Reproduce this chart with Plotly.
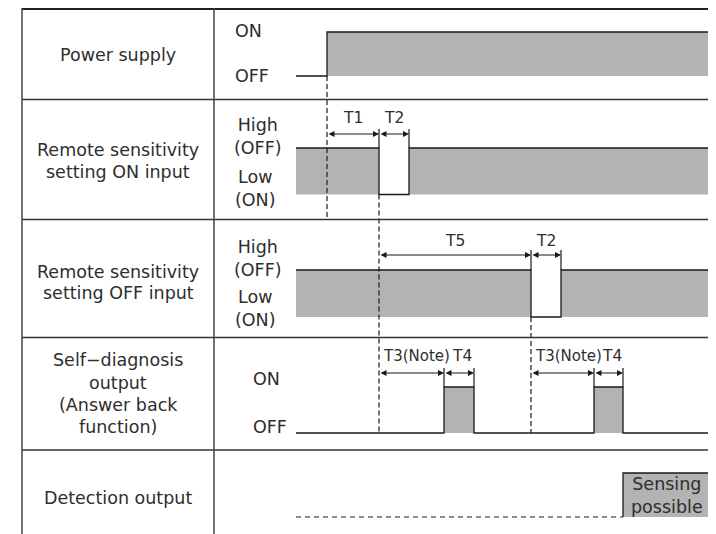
import plotly.graph_objects as go

W, H = 716, 534
PAGE_OFF = 8            # body margin of the html page (pixels)
X_ORIGIN = 327          # screen column of time zero (power on)

# ---------------- data (time units, power-on = 0) ----------------
power_t = [-31, 0, 384]
power_s = [0, 1, 1]
on_in_t = [-31, 52, 82, 384]
on_in_s = [1, 0, 1, 1]
off_in_t = [-31, 204, 234, 384]
off_in_s = [1, 0, 1, 1]
diag_t = [-31, 117, 147, 267, 296, 384]
diag_s = [0, 1, 0, 1, 0, 0]
det_t = [-31, 296, 384]
det_s = [0, 1, 1]

dim_label = ["T1", "T2", "T5", "T2", "T3(Note)", "T4", "T3(Note)", "T4"]
dim_t0 = [0, 52, 52, 204, 52, 117, 204, 267]
dim_t1 = [52, 82, 204, 234, 117, 147, 267, 296]
dim_row = [1, 1, 2, 2, 3, 3, 3, 3]

dash_t = [0, 52, 204]

row_titles = [
    ["Power supply"],
    ["Remote sensitivity", "setting ON input"],
    ["Remote sensitivity", "setting OFF input"],
    ["Self\u2212diagnosis", "output", "(Answer back", "function)"],
    ["Detection output"],
]
detect_text = "Sensing<br>possible"

# ---------------- layout constants (screen pixels) ----------------
row_high = [32, 148, 270, 387, 473]
row_low = [76, 194.5, 317, 433, 517]
row_title_y = [[55], [150, 172], [271.5, 293], [360, 383, 405, 427], [498]]
dim_arrow_y = {1: 134, 2: 255, 3: 373}
dim_text_y = {1: 118, 2: 241, 3: 356}
dash_y0 = [76, 194.5, 317]
dash_y1 = [219.5, 433, 433]
tick_top = {1: 129, 2: 250, 3: 368}
tick_bottom = {1: 148, 2: 270, 3: 387}
tick_t = {1: [52, 82], 2: [204, 234], 3: [117, 147, 267, 296]}

FONT = "DejaVu Sans"
TXT = "#2e2e2e"
LINE = "#1a1a1a"
GRAY = "#b3b3b3"
FS = 17.5


def X(px):
    return px - X_ORIGIN


signals = [(power_t, power_s), (on_in_t, on_in_s), (off_in_t, off_in_s),
           (diag_t, diag_s), (det_t, det_s)]

fig = go.Figure()

# gray fills where state == 1
for r, (ts, ss) in enumerate(signals):
    hi, lo = row_high[r], row_low[r]
    for i in range(len(ts) - 1):
        if ss[i] == 1 and ts[i + 1] > ts[i]:
            fig.add_trace(go.Scatter(
                x=[ts[i], ts[i + 1], ts[i + 1], ts[i], ts[i]],
                y=[hi, hi, lo, lo, hi], mode="lines", fill="toself",
                fillcolor=GRAY, line=dict(width=0), hoverinfo="skip"))

# signal step lines
for r, (ts, ss) in enumerate(signals):
    hi, lo = row_high[r], row_low[r]
    ys = [lo + s * (hi - lo) for s in ss]
    if r < 4:
        fig.add_trace(go.Scatter(x=ts, y=ys, mode="lines", line_shape="hv",
                                 line=dict(color=LINE, width=1.3), hoverinfo="skip"))
    else:
        # low part dashed, rise and high part solid
        for i in range(len(ts) - 1):
            if ss[i] == 0:
                fig.add_trace(go.Scatter(x=[ts[i], ts[i + 1]], y=[lo, lo], mode="lines",
                                         line=dict(color=LINE, width=1.2, dash="5px,4px"),
                                         hoverinfo="skip"))
            else:
                prev = ss[i - 1] if i > 0 else 1
                xs = [ts[i], ts[i], ts[i + 1]] if prev == 0 else [ts[i], ts[i + 1]]
                yv = [lo, hi, hi] if prev == 0 else [hi, hi]
                fig.add_trace(go.Scatter(x=xs, y=yv, mode="lines",
                                         line=dict(color=LINE, width=1.3), hoverinfo="skip"))

# dashed vertical reference lines
for t, y0, y1 in zip(dash_t, dash_y0, dash_y1):
    fig.add_trace(go.Scatter(x=[t, t], y=[y0, y1], mode="lines",
                             line=dict(color=LINE, width=1.2, dash="5px,3px"), hoverinfo="skip"))

# small ticks at dimension ends
for rr, ts in tick_t.items():
    xs, ys = [], []
    for t in ts:
        xs += [t, t, None]
        ys += [tick_top[rr], tick_bottom[rr], None]
    fig.add_trace(go.Scatter(x=xs, y=ys, mode="lines",
                             line=dict(color=LINE, width=1.2), hoverinfo="skip"))

ann = []
# dimension arrows + labels
for lab, t0, t1, rr in zip(dim_label, dim_t0, dim_t1, dim_row):
    ya = dim_arrow_y[rr]
    ann.append(dict(x=t1, y=ya, ax=t0, ay=ya, xref="x", yref="y", axref="x", ayref="y",
                    text="", showarrow=True, arrowhead=2, startarrowhead=2,
                    arrowside="end+start", arrowsize=1, arrowwidth=1.2,
                    arrowcolor=LINE, standoff=0, startstandoff=0))
    if lab.startswith("T3"):
        ann.append(dict(x=t0 + 2, y=dim_text_y[rr], xref="x", yref="y", text=lab,
                        showarrow=False, xanchor="left", yanchor="middle",
                        font=dict(family=FONT, size=15, color=TXT)))
    else:
        off = 3 if lab == "T4" else 0
        ann.append(dict(x=(t0 + t1) / 2 + off, y=dim_text_y[rr], xref="x", yref="y", text=lab,
                        showarrow=False, xanchor="center", yanchor="middle",
                        font=dict(family=FONT, size=15.5, color=TXT)))

# row titles
for lines, ys in zip(row_titles, row_title_y):
    for txt, y in zip(lines, ys):
        ann.append(dict(x=X(118), y=y, xref="x", yref="y", text=txt, showarrow=False,
                        xanchor="center", yanchor="middle",
                        font=dict(family=FONT, size=FS, color=TXT)))

# level labels
level_labels = [
    ("ON", 233, 31, "left"), ("OFF", 233, 76, "left"),
    ("High<br>(OFF)", 258, 136, "center"), ("Low<br>(ON)", 255, 188, "center"),
    ("High<br>(OFF)", 258, 258.5, "center"), ("Low<br>(ON)", 255, 308.5, "center"),
    ("ON", 251, 379, "left"), ("OFF", 251, 427, "left"),
]
for txt, px, y, anc in level_labels:
    ann.append(dict(x=X(px), y=y, xref="x", yref="y", text=txt, showarrow=False,
                    xanchor=anc, yanchor="middle",
                    font=dict(family=FONT, size=FS, color=TXT)))

# detection text inside box
ann.append(dict(x=(det_t[1] + det_t[2]) / 2, y=(row_high[4] + row_low[4]) / 2 + 0.5,
                xref="x", yref="y", text=detect_text, showarrow=False,
                xanchor="center", yanchor="middle",
                font=dict(family=FONT, size=FS, color=TXT)))

# table grid
shapes = []
shapes.append(dict(type="line", xref="x", yref="y", x0=X(22), x1=X(W + 20), y0=9, y1=9,
                   line=dict(color="#222222", width=2)))
for y in [99.5, 219.5, 337.5, 450]:
    shapes.append(dict(type="line", xref="x", yref="y", x0=X(22), x1=X(W + 20), y0=y, y1=y,
                       line=dict(color="#333333", width=1.5)))
for x in [22, 214]:
    shapes.append(dict(type="line", xref="x", yref="y", x0=X(x), x1=X(x), y0=8, y1=H + 20,
                       line=dict(color="#444444", width=1.5)))

fig.update_layout(
    width=W, height=H, margin=dict(l=0, r=0, t=0, b=0),
    paper_bgcolor="white", plot_bgcolor="white", showlegend=False, hovermode=False,
    xaxis=dict(range=[X(PAGE_OFF), X(PAGE_OFF + W)], visible=False, fixedrange=True),
    yaxis=dict(range=[PAGE_OFF + H, PAGE_OFF], visible=False, fixedrange=True),
    annotations=ann, shapes=shapes,
)

fig.write_html("out.html")
